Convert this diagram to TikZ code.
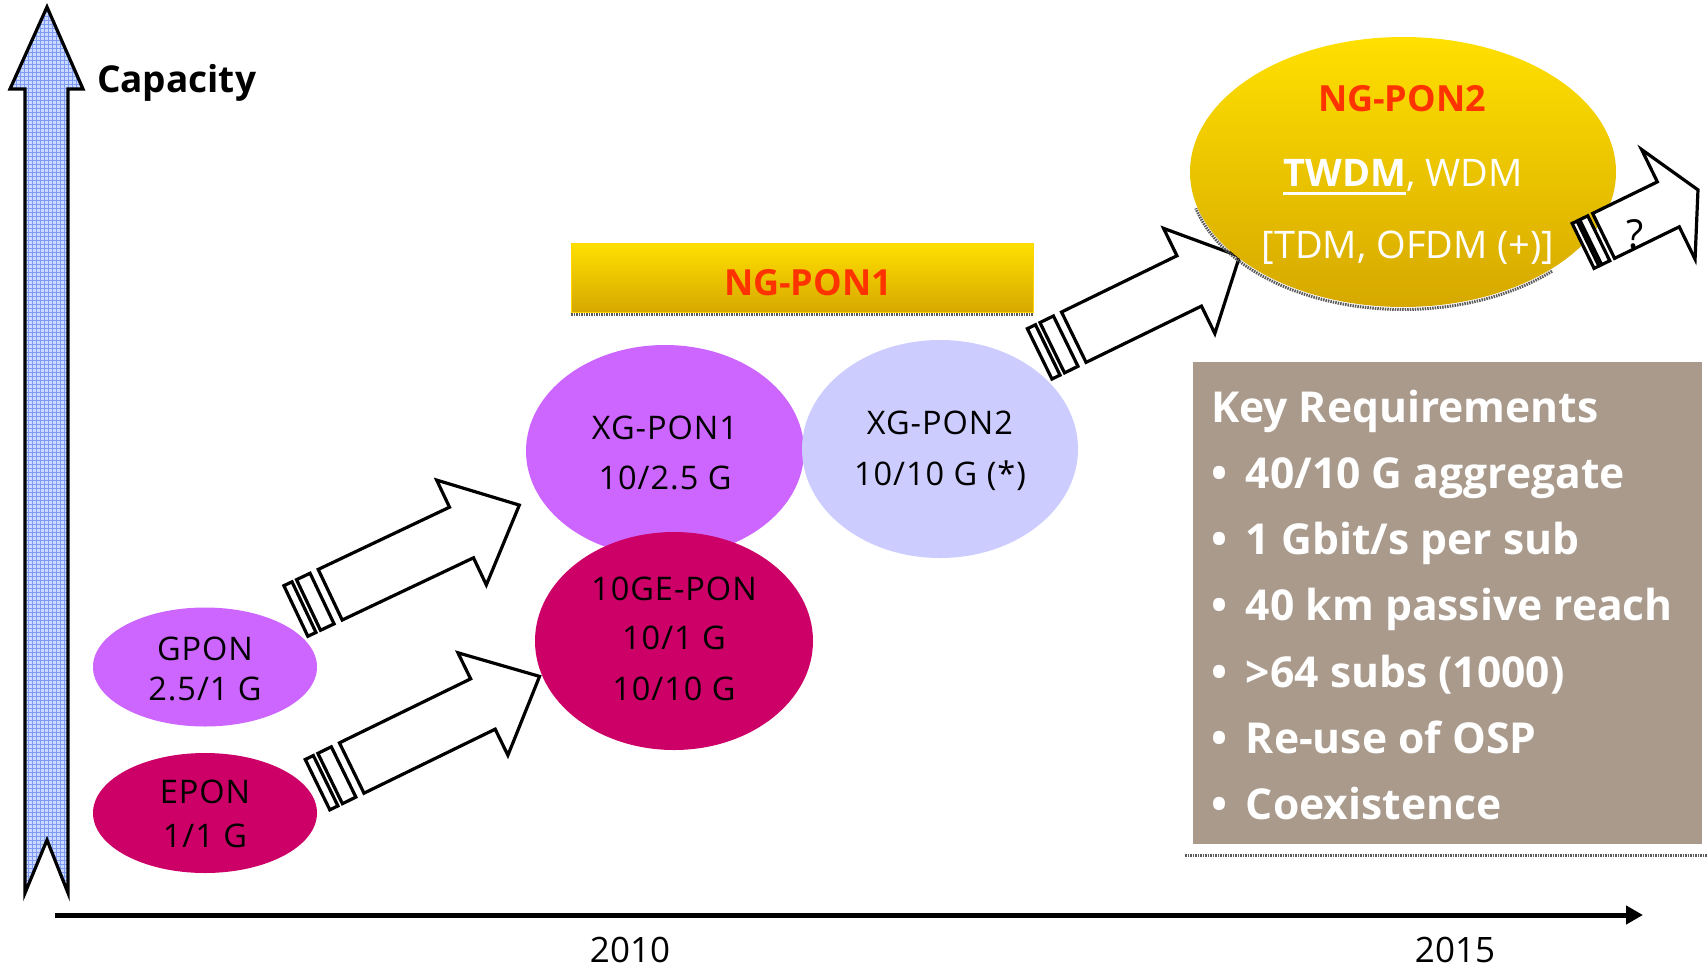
\documentclass[tikz,border=0pt]{standalone}
\usepackage{fontspec}
\setmainfont{Open Sans}
\usetikzlibrary{shapes.geometric, arrows.meta}

\definecolor{gponfill}{RGB}{204,102,255}
\definecolor{eponfill}{RGB}{204,0,102}
\definecolor{xgtwofill}{RGB}{204,204,255}
\definecolor{ngred}{RGB}{255,51,0}
\definecolor{goldtop}{RGB}{255,224,0}
\definecolor{goldbot}{RGB}{214,168,0}
\definecolor{reqbox}{RGB}{169,154,140}
\definecolor{capfill}{RGB}{205,218,255}
\definecolor{capgrid}{RGB}{125,155,245}
\definecolor{shadowgray}{RGB}{90,90,90}

% font size given in pixels of the 1708 x 970 canvas (1 unit = 1pt)
\newcommand\pxfont[1]{\fontsize{#1}{#1}\selectfont}
% text with a thick underline
\newcommand\ulbox[1]{\setbox0\hbox{#1}\rlap{\rule[-8.5pt]{\wd0}{3pt}}\box0}
% striped block arrow: x, y of tail centre, angle, shaft length,
% shaft half width, head half width, head length, stripe scale
\newcommand\stripedarrow[8]{%
  \begin{scope}[shift={(#1,#2)}, rotate=#3]
    \draw[blockarrow] (0,-#5) -- (#4,-#5) -- (#4,-#6) -- ({#4+#7},0)
      -- (#4,#6) -- (#4,#5) -- (0,#5) -- cycle;
    \draw[blockarrow] ({-9*#8},-#5) rectangle ({-24*#8},#5);
    \draw[blockarrow] ({-29*#8},-#5) rectangle ({-38*#8},#5);
  \end{scope}}

\begin{document}
\begin{tikzpicture}[x=1pt, y=-1pt,
  every node/.style={inner sep=0pt, outer sep=0pt},
  blob/.style={ellipse, draw=none},
  lbl/.style={anchor=base, font=\addfontfeatures{LetterSpace=3}\pxfont{32.5}},
  blockarrow/.style={draw=black, fill=white, line width=3.2pt, line join=miter},
  shadowline/.style={draw=shadowgray, line width=3pt, dash pattern=on 1.5pt off 1pt},
  gold/.style={top color=goldtop, bottom color=goldbot},
  req/.style={anchor=base west, text=white, font=\bfseries\pxfont{42.6}},
]
\fill[white] (0,0) rectangle (1708,970);
\useasboundingbox (0,0) rectangle (1708,970);

% capacity axis: hatched blue block arrow
\begin{scope}
  \clip (47,7) -- (83,89) -- (68,89) -- (68,893) -- (47,840) -- (25,893)
    -- (25,89) -- (10,89) -- cycle;
  \fill[capfill] (0,0) rectangle (100,900);
  \foreach \g in {8,12,...,96} \draw[capgrid, line width=0.9pt] (\g,0) -- (\g,900);
  \foreach \g in {4,8,...,900} \draw[capgrid, line width=0.9pt] (0,\g) -- (100,\g);
\end{scope}
\draw[line width=3.2pt, line join=miter] (47,7) -- (83,89) -- (68,89) -- (68,893)
  -- (47,840) -- (25,893) -- (25,89) -- (10,89) -- cycle;
\node[anchor=base west, font=\bfseries\pxfont{37}] (cap) at (97,92) {Capacity};

% time axis
\coordinate (t0) at (55,915);
\coordinate (t1) at (1643,915);
\draw[line width=5pt, -{Triangle[length=17pt, width=18pt]}] (t0) -- (t1);
\node[anchor=base, font=\pxfont{35}] (y2010) at (630,962) {2010};
\node[anchor=base, font=\pxfont{35}] (y2015) at (1455,962) {2015};

% NG-PON1 banner
\draw[shadowline] (571,314.5) -- (1033,314.5);
\node[rectangle, gold, draw=goldtop!90!orange, line width=1pt,
  minimum width=462, minimum height=69] (ng1) at (802,277.5) {};
\node[anchor=base, font=\bfseries\pxfont{36}, text=ngred] (ng1t) at (808,295) {NG-PON1};

% PON generations
\node[blob, fill=gponfill, minimum width=224, minimum height=119] (gpon) at (205,667) {};
\node[lbl] (gpona) at (205,660) {GPON};
\node[lbl] (gponb) at (205,700) {2.5/1 G};

\node[blob, fill=eponfill, minimum width=224, minimum height=120] (epon) at (205,813) {};
\node[lbl] (epona) at (205,803) {EPON};
\node[lbl] (eponb) at (205,847) {1/1 G};

\node[blob, fill=gponfill, minimum width=278, minimum height=212] (xg1) at (665,451) {};
\node[lbl] (xg1a) at (665,439) {XG-PON1};
\node[lbl] (xg1b) at (665,489) {10/2.5 G};

\node[blob, fill=eponfill, minimum width=278, minimum height=218] (ge) at (674,641) {};
\node[lbl] (gea) at (674,600) {10GE-PON};
\node[lbl] (geb) at (674,649) {10/1 G};
\node[lbl] (gec) at (674,700) {10/10 G};

\node[blob, fill=xgtwofill, minimum width=276, minimum height=218] (xg2) at (940,449) {};
\node[lbl] (xg2a) at (940,434) {XG-PON2};
\node[lbl] (xg2b) at (940,485) {10/10 G (*)};

% migration arrows
\stripedarrow{330.2}{594.7}{25.35}{145.3}{28}{58}{64}{1}
\stripedarrow{351.7}{768}{26}{146}{28}{57}{63}{1}
\stripedarrow{1073.8}{337.2}{26}{128.4}{28}{58.5}{56}{1}

% NG-PON2
\draw[shadowline] plot[domain=46:165, samples=80] ({1403+214.5*cos(\x)},{173+136.5*sin(\x)});
\node[blob, gold, minimum width=426, minimum height=270] (ng2) at (1403,172) {};
\node[anchor=base, font=\bfseries\pxfont{36}, text=ngred] (ng2t) at (1402,111) {NG-PON2};
\node[anchor=base, font=\pxfont{38}, text=white] (ng2b) at (1403,186) {\ulbox{\bfseries TWDM}, WDM};
\node[anchor=base, font=\pxfont{38}, text=white] (ng2c) at (1408,258) {[TDM, OFDM (+)]};

% beyond NG-PON2
\stripedarrow{1603.6}{235.9}{26}{72}{25}{61}{33}{0.6}
\node[anchor=base, font=\pxfont{40}] (qm) at (1635,248) {?};

% key requirements panel
\draw[shadowline] (1185,855) -- (1708,855);
\node[rectangle, fill=reqbox, minimum width=509, minimum height=482, anchor=north west] (req) at (1193,362) {};
\node[req] (kr1) at (1211,422) {Key Requirements};
\node[req] (kr2) at (1211,488.3) {\makebox[35pt][l]{•}40/10 G aggregate};
\node[req] (kr3) at (1211,554.6) {\makebox[35pt][l]{•}1 Gbit/s per sub};
\node[req] (kr4) at (1211,620.9) {\makebox[35pt][l]{•}40 km passive reach};
\node[req] (kr5) at (1211,687.2) {\makebox[35pt][l]{•}>64 subs (1000)};
\node[req] (kr6) at (1211,753.5) {\makebox[35pt][l]{•}Re-use of OSP};
\node[req] (kr7) at (1211,819.8) {\makebox[35pt][l]{•}Coexistence};
\end{tikzpicture}
\end{document}
